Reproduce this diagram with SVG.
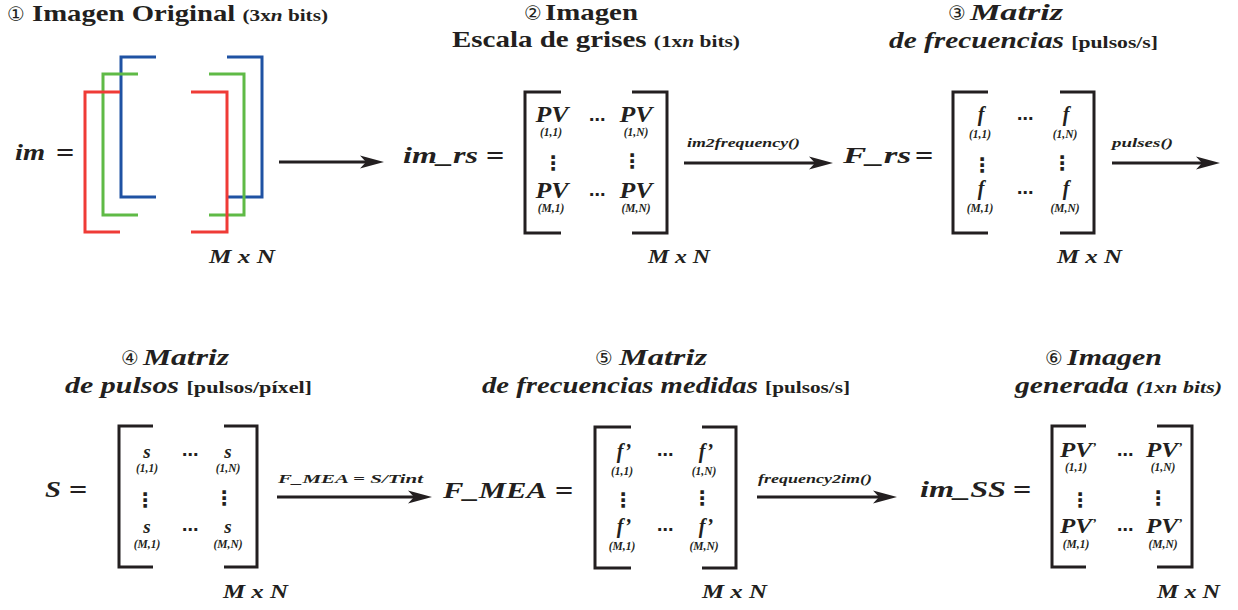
<svg xmlns="http://www.w3.org/2000/svg" width="1238" height="610" viewBox="0 0 1238 610">
<defs>
<style>
.t{font-family:"Liberation Serif",serif;font-weight:bold;fill:#231f20}
.m{font-family:"Liberation Serif",serif;font-weight:bold;font-style:italic;fill:#231f20}
.c{font-family:"DejaVu Sans",sans-serif;font-weight:normal;font-style:normal;fill:#231f20;font-size:20px}
.eq{font-family:"DejaVu Sans",sans-serif;font-weight:normal;font-style:normal;fill:#231f20;font-size:24px}
.dots{font-family:"DejaVu Sans",sans-serif;font-weight:bold;fill:#231f20;text-anchor:middle}
.e{font-family:"Liberation Serif",serif;font-weight:bold;font-style:italic;fill:#231f20;text-anchor:middle}
.sub{font-family:"Liberation Serif",serif;font-weight:bold;font-style:italic;fill:#231f20;text-anchor:middle;font-size:11.5px}
.mxn{font-family:"Liberation Serif",serif;font-weight:bold;font-style:italic;fill:#231f20;font-size:18px}
.br{fill:none;stroke:#231f20;stroke-width:3}
.cb{fill:none;stroke-width:3}
.arr{stroke:#231f20;stroke-width:3;fill:none;marker-end:url(#ah)}
.lbl{font-family:"Liberation Serif",serif;font-weight:bold;font-style:italic;fill:#231f20;font-size:13.5px}
</style>
<marker id="ah" markerUnits="userSpaceOnUse" markerWidth="24" markerHeight="16" refX="14" refY="8" orient="auto">
<path d="M0,1.5 L24,8 L0,14.5 L6,8 z" fill="#231f20"/>
</marker>
</defs>

<g id="connectors">
<line class="arr" x1="279" y1="162" x2="374" y2="162"/>
<line class="arr" x1="684" y1="163" x2="823" y2="163"/>
<line class="arr" x1="1112" y1="163" x2="1210" y2="163"/>
<line class="arr" x1="277" y1="497" x2="422" y2="497"/>
<line class="arr" x1="757" y1="497" x2="887" y2="497"/>
<text class="lbl" x="687" y="147" textLength="113" lengthAdjust="spacingAndGlyphs">im2frequency()</text>
<text class="lbl" x="1112" y="147" textLength="61" lengthAdjust="spacingAndGlyphs">pulses()</text>
<text class="lbl" x="278" y="483" textLength="145" lengthAdjust="spacingAndGlyphs">F_MEA = S/Tint</text>
<text class="lbl" x="758" y="483" textLength="114" lengthAdjust="spacingAndGlyphs">frequency2im()</text>
</g>

<g id="node1">
<text class="c" x="7" y="21">①</text>
<text class="t" x="32" y="21" font-size="23" textLength="296" lengthAdjust="spacingAndGlyphs">Imagen Original <tspan font-size="17">(3x<tspan font-style="italic">n</tspan> bits)</tspan></text>
<text class="m" x="15" y="160" font-size="24" textLength="30" lengthAdjust="spacingAndGlyphs">im</text>
<text class="eq" x="55" y="160">=</text>
<polyline class="cb" stroke="#1f52a3" points="156,57 121,57 121,197 156,197"/>
<polyline class="cb" stroke="#1f52a3" points="227,57 262,57 262,197 227,197"/>
<polyline class="cb" stroke="#5fba46" points="138,74 103,74 103,215 138,215"/>
<polyline class="cb" stroke="#5fba46" points="209,74 244,74 244,215 209,215"/>
<polyline class="cb" stroke="#ef3b36" points="120,92 85,92 85,232 120,232"/>
<polyline class="cb" stroke="#ef3b36" points="191,92 227,92 227,232 191,232"/>
<text class="mxn" x="209" y="263" textLength="66" lengthAdjust="spacingAndGlyphs">M x N</text>
</g>

<g id="node2">
<text class="c" x="524" y="20">②</text>
<text class="t" x="545" y="20" font-size="23" textLength="93" lengthAdjust="spacingAndGlyphs">Imagen</text>
<text class="t" x="452" y="47" font-size="23" textLength="288" lengthAdjust="spacingAndGlyphs">Escala de grises <tspan font-size="17">(1x<tspan font-style="italic">n</tspan> bits)</tspan></text>
<text class="m" x="403" y="163" font-size="24" textLength="75" lengthAdjust="spacingAndGlyphs">im_rs</text>
<text class="eq" x="485" y="163">=</text>
<path class="br" d="M561,92 H525 V233 H561 M632,92 H667 V233 H632"/>
<text class="e" x="552" y="122" font-size="23" textLength="33" lengthAdjust="spacingAndGlyphs">PV</text>
<text class="sub" x="551" y="136">(1,1)</text>
<text class="dots" x="597" y="125" font-size="16">⋯</text>
<text class="e" x="636" y="122" font-size="23" textLength="33" lengthAdjust="spacingAndGlyphs">PV</text>
<text class="sub" x="636" y="136">(1,N)</text>
<text class="dots" x="553" y="170" font-size="20">⋮</text>
<text class="dots" x="632" y="168" font-size="20">⋮</text>
<text class="e" x="552" y="198" font-size="23" textLength="33" lengthAdjust="spacingAndGlyphs">PV</text>
<text class="sub" x="551" y="212">(M,1)</text>
<text class="dots" x="597" y="200" font-size="16">⋯</text>
<text class="e" x="636" y="198" font-size="23" textLength="33" lengthAdjust="spacingAndGlyphs">PV</text>
<text class="sub" x="636" y="212">(M,N)</text>
<text class="mxn" x="648" y="263" textLength="62" lengthAdjust="spacingAndGlyphs">M x N</text>
</g>

<g id="node3">
<text class="c" x="948" y="20">③</text>
<text class="m" x="970" y="20" font-size="23" textLength="93" lengthAdjust="spacingAndGlyphs">Matriz</text>
<text class="m" x="889" y="48" font-size="23" textLength="269" lengthAdjust="spacingAndGlyphs">de frecuencias <tspan font-size="17" font-style="normal">[pulsos/s]</tspan></text>
<text class="m" x="843" y="163" font-size="24" textLength="68" lengthAdjust="spacingAndGlyphs">F_rs</text>
<text class="eq" x="914" y="163">=</text>
<path class="br" d="M988,92 H953 V233 H988 M1060,92 H1094 V233 H1060"/>
<text class="e" x="981" y="121" font-size="20">f</text>
<text class="sub" x="980" y="138">(1,1)</text>
<text class="dots" x="1025" y="124" font-size="16">⋯</text>
<text class="e" x="1066" y="121" font-size="20">f</text>
<text class="sub" x="1065" y="138">(1,N)</text>
<text class="dots" x="982" y="172" font-size="20">⋮</text>
<text class="dots" x="1062" y="170" font-size="20">⋮</text>
<text class="e" x="981" y="195" font-size="20">f</text>
<text class="sub" x="980" y="212">(M,1)</text>
<text class="dots" x="1025" y="198" font-size="16">⋯</text>
<text class="e" x="1066" y="195" font-size="20">f</text>
<text class="sub" x="1065" y="212">(M,N)</text>
<text class="mxn" x="1057" y="263" textLength="65" lengthAdjust="spacingAndGlyphs">M x N</text>
</g>

<g id="node4">
<text class="c" x="121" y="365">④</text>
<text class="m" x="143" y="365" font-size="23" textLength="86" lengthAdjust="spacingAndGlyphs">Matriz</text>
<text class="m" x="65" y="393" font-size="23" textLength="247" lengthAdjust="spacingAndGlyphs">de pulsos <tspan font-size="17" font-style="normal">[pulsos/píxel]</tspan></text>
<text class="m" x="45" y="497" font-size="24" textLength="16" lengthAdjust="spacingAndGlyphs">S</text>
<text class="eq" x="68" y="497">=</text>
<path class="br" d="M153,426 H119 V567 H153 M224,426 H257 V567 H224"/>
<text class="e" x="147" y="458" font-size="19">s</text>
<text class="sub" x="147" y="472">(1,1)</text>
<text class="dots" x="190" y="460" font-size="16">⋯</text>
<text class="e" x="228" y="458" font-size="19">s</text>
<text class="sub" x="228" y="472">(1,N)</text>
<text class="dots" x="145" y="507" font-size="20">⋮</text>
<text class="dots" x="224" y="505" font-size="20">⋮</text>
<text class="e" x="147" y="533" font-size="19">s</text>
<text class="sub" x="147" y="548">(M,1)</text>
<text class="dots" x="190" y="535" font-size="16">⋯</text>
<text class="e" x="228" y="533" font-size="19">s</text>
<text class="sub" x="228" y="548">(M,N)</text>
<text class="mxn" x="223" y="598" textLength="65" lengthAdjust="spacingAndGlyphs">M x N</text>
</g>

<g id="node5">
<text class="c" x="595" y="365">⑤</text>
<text class="m" x="619" y="365" font-size="23" textLength="88" lengthAdjust="spacingAndGlyphs">Matriz</text>
<text class="m" x="482" y="393" font-size="23" textLength="368" lengthAdjust="spacingAndGlyphs">de frecuencias medidas <tspan font-size="17" font-style="normal">[pulsos/s]</tspan></text>
<text class="m" x="443" y="498" font-size="24" textLength="104" lengthAdjust="spacingAndGlyphs">F_MEA</text>
<text class="eq" x="554" y="498">=</text>
<path class="br" d="M631,427 H595 V568 H631 M702,427 H736 V568 H702"/>
<text class="e" x="624" y="458" font-size="20">f’</text>
<text class="sub" x="622" y="475">(1,1)</text>
<text class="dots" x="665" y="460" font-size="16">⋯</text>
<text class="e" x="706" y="458" font-size="20">f’</text>
<text class="sub" x="704" y="475">(1,N)</text>
<text class="dots" x="623" y="507" font-size="20">⋮</text>
<text class="dots" x="702" y="505" font-size="20">⋮</text>
<text class="e" x="624" y="533" font-size="20">f’</text>
<text class="sub" x="622" y="550">(M,1)</text>
<text class="dots" x="665" y="535" font-size="16">⋯</text>
<text class="e" x="706" y="533" font-size="20">f’</text>
<text class="sub" x="704" y="550">(M,N)</text>
<text class="mxn" x="702" y="598" textLength="65" lengthAdjust="spacingAndGlyphs">M x N</text>
</g>

<g id="node6">
<text class="c" x="1045" y="365">⑥</text>
<text class="m" x="1067" y="365" font-size="23" textLength="95" lengthAdjust="spacingAndGlyphs">Imagen</text>
<text class="m" x="1015" y="393" font-size="23" textLength="207" lengthAdjust="spacingAndGlyphs">generada <tspan font-size="17">(1xn bits)</tspan></text>
<text class="m" x="920" y="497" font-size="24" textLength="86" lengthAdjust="spacingAndGlyphs">im_SS</text>
<text class="eq" x="1012" y="497">=</text>
<path class="br" d="M1086,426 H1052 V567 H1086 M1157,426 H1192 V567 H1157"/>
<text class="e" x="1076" y="457" font-size="22" textLength="32" lengthAdjust="spacingAndGlyphs">PV</text>
<text class="m" x="1092" y="451" font-size="13">’</text>
<text class="sub" x="1076" y="471">(1,1)</text>
<text class="dots" x="1125" y="460" font-size="16">⋯</text>
<text class="e" x="1162" y="457" font-size="22" textLength="32" lengthAdjust="spacingAndGlyphs">PV</text>
<text class="m" x="1178" y="451" font-size="13">’</text>
<text class="sub" x="1163" y="471">(1,N)</text>
<text class="dots" x="1080" y="507" font-size="20">⋮</text>
<text class="dots" x="1158" y="505" font-size="20">⋮</text>
<text class="e" x="1076" y="533" font-size="22" textLength="32" lengthAdjust="spacingAndGlyphs">PV</text>
<text class="m" x="1092" y="527" font-size="13">’</text>
<text class="sub" x="1076" y="548">(M,1)</text>
<text class="dots" x="1125" y="535" font-size="16">⋯</text>
<text class="e" x="1162" y="533" font-size="22" textLength="32" lengthAdjust="spacingAndGlyphs">PV</text>
<text class="m" x="1178" y="527" font-size="13">’</text>
<text class="sub" x="1163" y="548">(M,N)</text>
<text class="mxn" x="1157" y="598" textLength="63" lengthAdjust="spacingAndGlyphs">M x N</text>
</g>
</svg>
